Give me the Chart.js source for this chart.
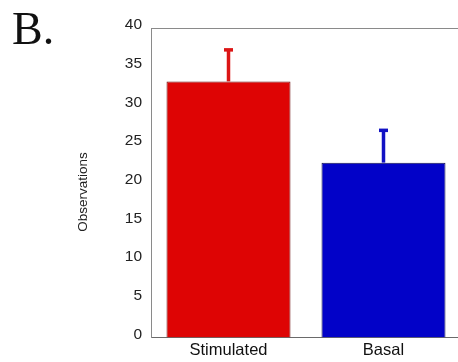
<!DOCTYPE html>
<html>
<head>
<meta charset="utf-8">
<script src="https://cdn.jsdelivr.net/npm/chart.js@4.4.1/dist/chart.umd.min.js"></script>
<style>
  html, body { margin: 0; padding: 0; background: #fff; overflow: hidden; }
  #wrap { position: relative; width: 458px; height: 362px; overflow: hidden; }
  #panel { position: absolute; left: 12px; top: 6px; font-family: "Liberation Serif", "Times New Roman", serif; font-size: 46px; color: #111; line-height: 1; }
  #box { position: absolute; left: 0; top: 0; width: 462px; height: 362px; }
</style>
</head>
<body>
<div id="wrap">
  <div id="box"><canvas id="c" width="462" height="362"></canvas></div>
  <div id="panel">B.</div>
</div>
<script>
// Observation counts per condition, with the upward error (SD) for each bar
const categories = ["Stimulated", "Basal"];
const means = [33.1, 22.6];
const errors = [4.3, 4.4];
const yTicks = [0, 5, 10, 15, 20, 25, 30, 35, 40];
const yTitle = "Observations";

const fillColors = ["#DE0404", "#0202C8"];
const edgeColors = ["#6E1010", "#14144A"];
const errColors = ["#DC1515", "#1212C4"];
const sans = '"Liberation Sans", Arial, sans-serif';

// Upward error bars with a short flat cap, placed through the chart scales
const errorBars = {
  id: "errorBars",
  afterDatasetsDraw(chart) {
    const { ctx, scales: { x, y } } = chart;
    ctx.save();
    means.forEach((m, i) => {
      const cx = x.getPixelForValue(i);
      const yTop = y.getPixelForValue(m + errors[i]);
      const yBase = y.getPixelForValue(m);
      ctx.strokeStyle = errColors[i];
      ctx.fillStyle = errColors[i];
      ctx.lineWidth = 3.5;
      ctx.beginPath();
      ctx.moveTo(cx, yBase);
      ctx.lineTo(cx, yTop + 1);
      ctx.stroke();
      ctx.fillRect(cx - 4.5, yTop, 9, 3.5);
    });
    ctx.restore();
  }
};

// Frame line along the top of the plot, y tick labels and the rotated axis title
const frameAndTitle = {
  id: "frameAndTitle",
  afterDraw(chart) {
    const { ctx, chartArea: a, scales: { y } } = chart;
    ctx.save();
    ctx.strokeStyle = "#8a8a8a";
    ctx.lineWidth = 1;
    ctx.beginPath();
    ctx.moveTo(a.left, a.top + 0.5);
    ctx.lineTo(a.right, a.top + 0.5);
    ctx.stroke();

    ctx.fillStyle = "#222";
    ctx.font = "15.5px " + sans;
    ctx.textAlign = "right";
    ctx.textBaseline = "middle";
    yTicks.forEach(v => ctx.fillText(String(v), a.left - 9, y.getPixelForValue(v) - 3));

    ctx.translate(83, 192);
    ctx.rotate(-Math.PI / 2);
    ctx.font = "13.5px " + sans;
    ctx.textAlign = "center";
    ctx.fillText(yTitle, 0, 0);
    ctx.restore();
  }
};

new Chart(document.getElementById("c"), {
  type: "bar",
  data: {
    labels: categories,
    datasets: [{
      data: means,
      backgroundColor: fillColors,
      borderColor: edgeColors,
      borderWidth: 1,
      barPercentage: 0.8,
      categoryPercentage: 1.0
    }]
  },
  options: {
    responsive: false,
    animation: false,
    events: [],
    layout: { padding: { left: 0, right: 1, top: 28, bottom: 0 } },
    plugins: { legend: { display: false }, tooltip: { enabled: false }, title: { display: false } },
    scales: {
      x: {
        grid: { display: false, drawTicks: false },
        border: { display: true, color: "#6a6a6a", width: 1 },
        ticks: {
          color: "#111",
          font: { family: sans, size: 16.5 },
          padding: 3,
          maxRotation: 0
        },
        afterFit(s) { s.height = 24.5; }
      },
      y: {
        min: 0,
        max: 40,
        afterBuildTicks(s) { s.ticks = yTicks.map(v => ({ value: v })); },
        grid: { display: false, drawTicks: false },
        border: { display: true, color: "#8a8a8a", width: 1 },
        ticks: { display: false },
        afterFit(s) { s.width = 151; }
      }
    }
  },
  plugins: [errorBars, frameAndTitle]
});
</script>
</body>
</html>
